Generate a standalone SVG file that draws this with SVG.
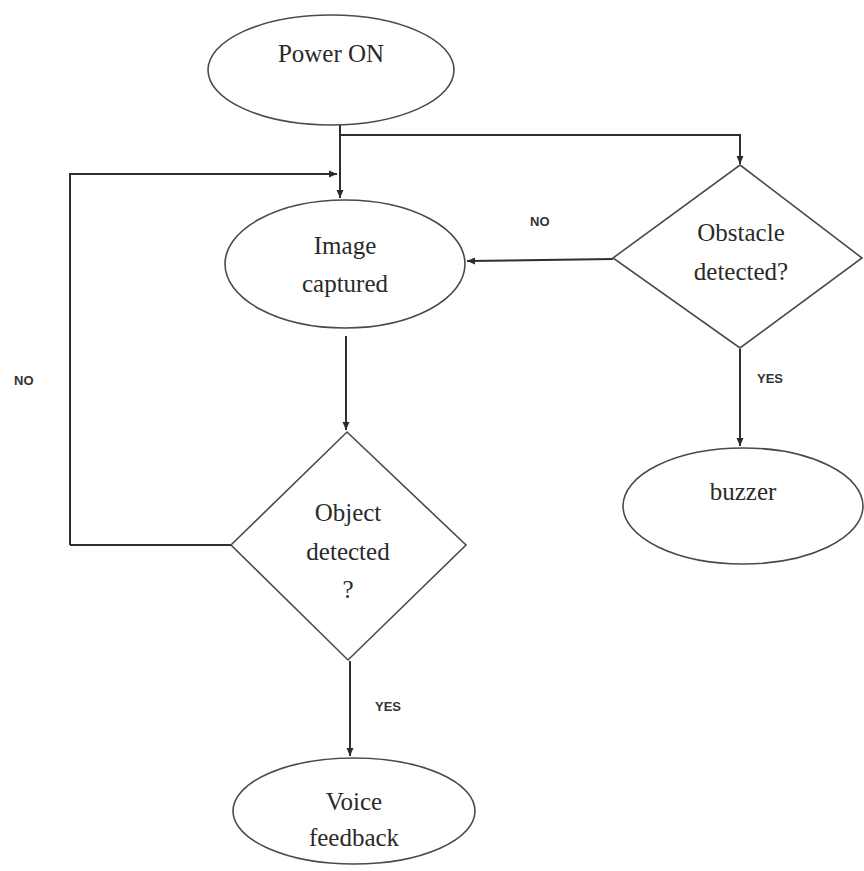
<svg xmlns="http://www.w3.org/2000/svg" width="864" height="871" viewBox="0 0 864 871">
<defs>
<marker id="ah" markerWidth="10" markerHeight="10" refX="9" refY="5" orient="auto" markerUnits="userSpaceOnUse">
<path d="M1,1.5 L9,5 L1,8.5 Z" fill="#2a2a2a"/>
</marker>
</defs>
<style>
.shape{fill:#fff;stroke:#4a4a4a;stroke-width:1.6}
.t{font-family:"Liberation Serif",serif;font-size:25px;fill:#2a2a2a;text-anchor:middle}
.lbl{font-family:"Liberation Sans",Arial,sans-serif;font-size:13px;font-weight:bold;fill:#333}
.c{fill:none;stroke:#2f2f2f;stroke-width:2}
</style>
<rect width="864" height="871" fill="#fff"/>
<g id="connectors">
<path class="c" d="M340,125 L340,198" marker-end="url(#ah)"/>
<path class="c" d="M340,135 L740,135 L740,164" marker-end="url(#ah)"/>
<path class="c" d="M70,545 L70,174 L337,174" marker-end="url(#ah)"/>
<path class="c" d="M231,545 L70,545"/>
<path class="c" d="M613,259 L467,261" marker-end="url(#ah)"/>
<path class="c" d="M346,336 L346,430" marker-end="url(#ah)"/>
<path class="c" d="M740,349 L740,446" marker-end="url(#ah)"/>
<path class="c" d="M350,661 L350,756" marker-end="url(#ah)"/>
<text class="lbl" x="530" y="226">NO</text>
<text class="lbl" x="14" y="385">NO</text>
<text class="lbl" x="757" y="383">YES</text>
<text class="lbl" x="375" y="711">YES</text>
</g>
<g id="power-on">
<ellipse class="shape" cx="331" cy="70" rx="123" ry="55"/>
<text class="t" x="331" y="62">Power ON</text>
</g>
<g id="image-captured">
<ellipse class="shape" cx="345" cy="264" rx="120" ry="64"/>
<text class="t" x="345" y="254">Image</text>
<text class="t" x="345" y="292">captured</text>
</g>
<g id="obstacle-detected">
<polygon class="shape" points="740,165 862,258 740,348 613,258"/>
<text class="t" x="741" y="241">Obstacle</text>
<text class="t" x="741" y="280">detected?</text>
</g>
<g id="object-detected">
<polygon class="shape" points="347,432 466,545 348,660 231,545"/>
<text class="t" x="348" y="521">Object</text>
<text class="t" x="348" y="560">detected</text>
<text class="t" x="348" y="598">?</text>
</g>
<g id="buzzer">
<ellipse class="shape" cx="743" cy="506" rx="120" ry="58"/>
<text class="t" x="743" y="500">buzzer</text>
</g>
<g id="voice-feedback">
<ellipse class="shape" cx="354" cy="811" rx="121" ry="53"/>
<text class="t" x="354" y="810">Voice</text>
<text class="t" x="354" y="846">feedback</text>
</g>
</svg>
